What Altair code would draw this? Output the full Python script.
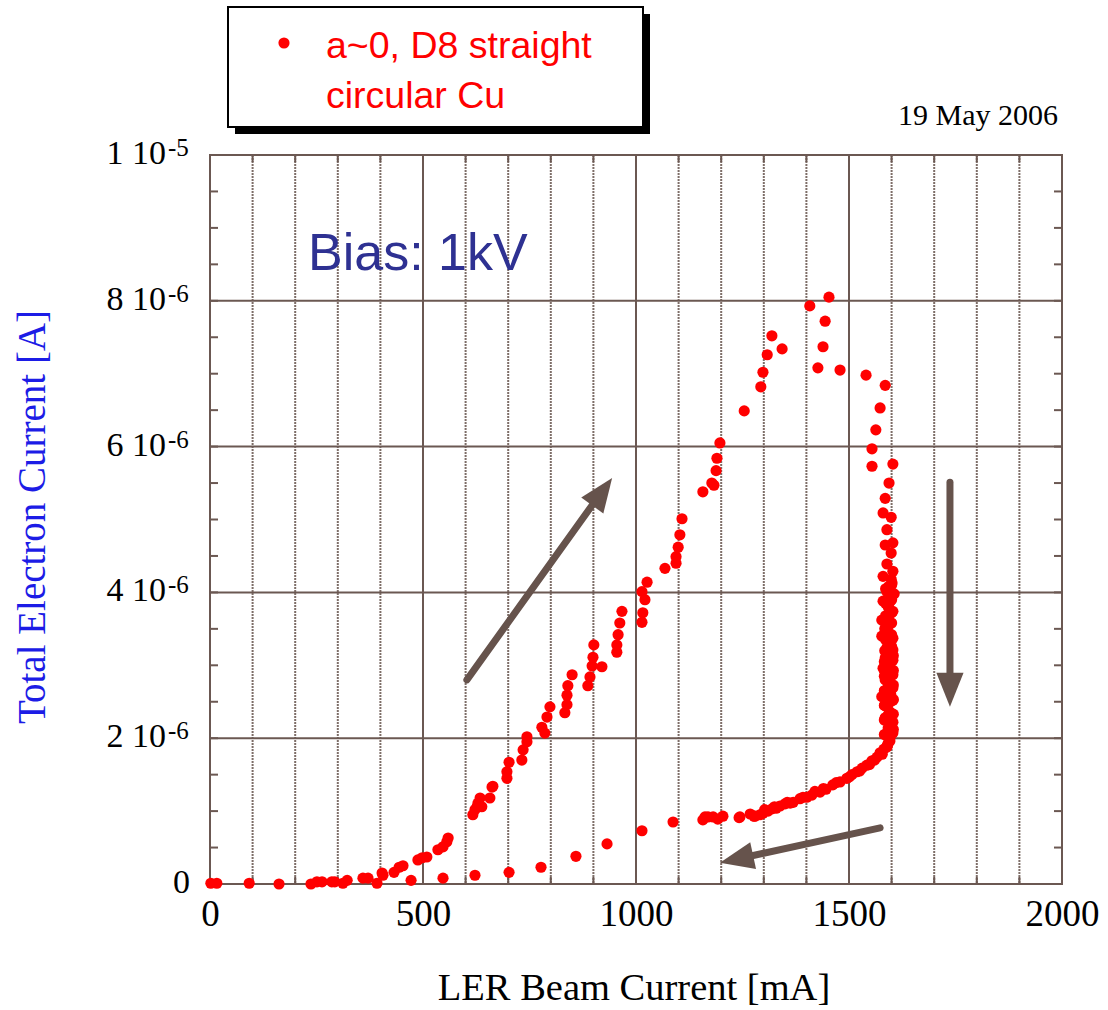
import altair as alt
import pandas as pd

# ---------------- data (LER beam current [mA], total electron current [1e-6 A]) ----------------
ramp_mA = [2, 16, 92, 162, 237, 251, 263, 286, 293, 312, 322, 359, 371, 392, 404, 406, 432, 444, 453,
           488, 498, 509, 535, 547, 556, 559, 617, 622, 627, 629, 634, 638, 657, 662, 664, 697, 697,
           702, 732, 735, 744, 744, 779, 786, 791, 798, 833, 838, 838, 840, 850, 887, 892, 897, 899,
           901, 920, 955, 955, 958, 962, 967, 1014, 1016, 1021, 1014, 1026, 1068, 1094, 1094, 1099,
           1103, 1108, 1157, 1178, 1183, 1188, 1190, 1197, 1254, 1293, 1298, 1308, 1319, 1343, 1408,
           1453, 1444, 1439, 1427, 1479, 1540, 1585]
ramp_uA = [0.01, 0.01, 0.01, 0.0, 0.0, 0.03, 0.03, 0.03, 0.03, 0.01, 0.05, 0.08, 0.08, 0.01, 0.15, 0.12,
           0.16, 0.23, 0.25, 0.33, 0.36, 0.37, 0.47, 0.51, 0.58, 0.63, 0.95, 1.02, 1.06, 1.11, 1.18,
           1.06, 1.18, 1.33, 1.34, 1.45, 1.54, 1.67, 1.70, 1.84, 1.95, 2.02, 2.15, 2.07, 2.29, 2.43,
           2.35, 2.46, 2.59, 2.72, 2.87, 2.72, 2.84, 2.99, 3.11, 3.28, 2.98, 3.18, 3.28, 3.42, 3.58,
           3.74, 3.59, 3.72, 3.90, 4.01, 4.14, 4.33, 4.40, 4.49, 4.62, 4.79, 5.01, 5.38, 5.50, 5.47,
           5.67, 5.84, 6.05, 6.49, 6.82, 7.02, 7.26, 7.52, 7.34, 7.93, 8.05, 7.72, 7.37, 7.08, 7.05,
           6.98, 6.84]

hold_mA = [1573, 1563, 1554, 1554, 1603, 1594, 1585, 1580, 1599, 1589, 1585, 1603, 1599, 1589, 1603,
           1580, 1599, 1601, 1589, 1606, 1580, 1596, 1603, 1577, 1596, 1589, 1577, 1603, 1589, 1603,
           1585, 1603, 1580, 1603, 1585, 1603, 1577, 1603, 1589, 1596, 1585, 1603, 1592, 1603, 1596,
           1592, 1592, 1592, 1592, 1592, 1592, 1592, 1592, 1592, 1592, 1592, 1584, 1584, 1584, 1584,
           1584, 1598, 1598, 1598, 1598, 1598,
           1583, 1590, 1597, 1604, 1583, 1590, 1597, 1604, 1583, 1590, 1597, 1604, 1583, 1590, 1597,
           1604, 1583, 1590, 1597, 1604, 1583, 1590, 1597, 1604, 1586, 1593, 1600, 1586, 1593, 1600,
           1586, 1593, 1600, 1586, 1593, 1600, 1586, 1593, 1600, 1586, 1593, 1600]
hold_uA = [6.53, 6.23, 5.97, 5.73, 5.76, 5.50, 5.29, 5.09, 5.03, 4.86, 4.65, 4.68, 4.54, 4.39, 4.29,
           4.22, 4.18, 4.13, 4.01, 3.98, 3.88, 3.87, 3.74, 3.62, 3.59, 3.48, 3.40, 3.37, 3.24, 3.21,
           3.10, 3.07, 2.96, 2.87, 2.80, 2.69, 2.57, 2.52, 2.43, 2.36, 2.28, 2.22, 2.14, 2.07, 2.00,
           1.93, 3.80, 3.55, 3.30, 3.15, 3.00, 2.90, 2.75, 2.62, 2.48, 2.32, 2.45, 2.65, 2.92, 3.20,
           3.50, 2.60, 2.30, 2.10, 2.95, 3.25,
           2.05, 2.08, 2.10, 2.12, 2.25, 2.27, 2.30, 2.33, 2.45, 2.47, 2.50, 2.53, 2.65, 2.67, 2.70,
           2.73, 2.85, 2.87, 2.90, 2.93, 3.05, 3.08, 3.10, 3.13, 3.20, 3.23, 3.26, 3.35, 3.38, 3.42,
           3.52, 3.55, 3.58, 3.68, 3.70, 3.72, 3.85, 3.88, 3.90, 4.05, 4.08, 4.10]

decay_mA = [1589, 1582, 1573, 1566, 1554, 1542, 1531, 1519, 1507, 1495, 1479, 1462, 1446, 1432, 1413,
            1401, 1385, 1369, 1362, 1350, 1338, 1329, 1319, 1310, 1298, 1291, 1279, 1277, 1244, 1242,
            1204, 1192, 1181, 1169, 1162, 1157, 1087, 1014, 932, 859, 777, 702, 622, 547, 472,
            1596, 1590, 1578, 1560, 1548, 1525, 1501, 1470, 1440, 1420, 1392, 1355, 1325, 1302, 1268]
decay_uA = [1.88, 1.85, 1.80, 1.74, 1.69, 1.63, 1.59, 1.54, 1.50, 1.45, 1.40, 1.36, 1.30, 1.26, 1.22,
            1.19, 1.17, 1.12, 1.11, 1.10, 1.07, 1.04, 1.03, 1.00, 0.97, 0.95, 0.93, 0.93, 0.92, 0.91,
            0.93, 0.89, 0.92, 0.92, 0.92, 0.88, 0.85, 0.73, 0.55, 0.38, 0.23, 0.16, 0.12, 0.08, 0.05,
            1.96, 1.90, 1.78, 1.70, 1.64, 1.55, 1.47, 1.39, 1.31, 1.27, 1.19, 1.12, 1.06, 1.02, 0.96]

# axes / grid
x_label_vals = [0, 500, 1000, 1500, 2000]
x_major_grid = [500, 1000, 1500]
x_minor_grid = [100, 200, 300, 400, 600, 700, 800, 900, 1100, 1200, 1300, 1400, 1600, 1700, 1800, 1900]
x_minor_ticks = list(range(100, 2000, 100))
y_grid = [2, 4, 6, 8]
y_minor_ticks = [0.5, 1, 1.5, 2, 2.5, 3, 3.5, 4, 4.5, 5, 5.5, 6, 6.5, 7, 7.5, 8, 8.5, 9, 9.5]
y_tick_vals = [0, 2, 4, 6, 8, 10]
y_tick_main = ["0", "2 10", "4 10", "6 10", "8 10", "1 10"]
y_tick_exp = ["", "-6", "-6", "-6", "-6", "-5"]

# annotation arrows (start, shaft end, tip, head angle)
arrow_x0 = [603, 1737, 1573]
arrow_y0 = [2.80, 5.51, 0.77]
arrow_xs = [916, 1737, 1243]
arrow_ys = [5.35, 2.70, 0.35]
arrow_xt = [944, 1737, 1197]
arrow_yt = [5.57, 2.43, 0.29]
arrow_ang = [35.7, 180, 257.7]

# ---------------- styling ----------------
W, H = 852, 729
BROWN = "#6B5852"
MINOR = "#7E6E68"
ARROW = "#66534C"
SERIF = "Liberation Serif"
SANS = "Liberation Sans"

xs = alt.Scale(domain=[0, 2000], nice=False, zero=False)
ys = alt.Scale(domain=[0, 10], nice=False, zero=False)
x_axis = alt.Axis(values=x_label_vals, title=None, ticks=False, domain=False, grid=False,
                  format="d", labelFont=SERIF, labelFontSize=37, labelColor="black", labelPadding=12,
                  labelFlush=False, labelOverlap=False)


def X(f):
    return alt.X(f, type="quantitative", scale=xs, axis=x_axis)


def Y(f):
    return alt.Y(f, type="quantitative", scale=ys, axis=None)


one = pd.DataFrame({"k": [0]})

pts = pd.DataFrame({
    "mA": ramp_mA + hold_mA + decay_mA,
    "uA": ramp_uA + hold_uA + decay_uA,
})

minor_grid = alt.Chart(pd.DataFrame({"x": x_minor_grid})).mark_rule(
    color=MINOR, strokeWidth=2, strokeDash=[2, 1]).encode(x=X("x"), y=alt.value(0), y2=alt.value(H))
major_grid = alt.Chart(pd.DataFrame({"x": x_major_grid})).mark_rule(
    color=BROWN, strokeWidth=2).encode(x=X("x"), y=alt.value(0), y2=alt.value(H))
h_grid = alt.Chart(pd.DataFrame({"y": y_grid})).mark_rule(
    color=BROWN, strokeWidth=2).encode(y=Y("y"), x=alt.value(0), x2=alt.value(W))

xt = pd.DataFrame({"x": x_minor_ticks})
ticks_bottom = alt.Chart(xt).mark_rule(color=BROWN, strokeWidth=2).encode(
    x=X("x"), y=alt.value(H - 7), y2=alt.value(H))
ticks_top = alt.Chart(xt).mark_rule(color=BROWN, strokeWidth=2).encode(
    x=X("x"), y=alt.value(0), y2=alt.value(7))
yt = pd.DataFrame({"y": y_minor_ticks})
ticks_left = alt.Chart(yt).mark_rule(color=BROWN, strokeWidth=2).encode(
    y=Y("y"), x=alt.value(0), x2=alt.value(8))
ticks_right = alt.Chart(yt).mark_rule(color=BROWN, strokeWidth=2).encode(
    y=Y("y"), x=alt.value(W - 8), x2=alt.value(W))

points = alt.Chart(pts).mark_circle(size=125, color="#FF0000", opacity=1).encode(
    x=X("mA"), y=Y("uA"))

arr = pd.DataFrame({"x0": arrow_x0, "y0": arrow_y0, "xs": arrow_xs, "ys": arrow_ys,
                    "xt": arrow_xt, "yt": arrow_yt, "ang": arrow_ang})
shafts = alt.Chart(arr).mark_rule(color=ARROW, strokeWidth=7, strokeCap="round").encode(
    x=X("x0"), y=Y("y0"), x2="xs:Q", y2="ys:Q")
heads = alt.Chart(arr).mark_point(shape="M0,0L0.8,2L-0.8,2Z", filled=True, size=1156,
                                  color=ARROW, opacity=1, strokeWidth=0).encode(
    x=X("xt"), y=Y("yt"), angle=alt.Angle("ang:Q", scale=None))

ylab = pd.DataFrame({"v": y_tick_vals, "main": y_tick_main, "exp": y_tick_exp})
ylab_main = alt.Chart(ylab).transform_filter("datum.v > 0").mark_text(
    font=SERIF, fontSize=34, color="black", align="right", baseline="alphabetic", dy=9).encode(
    y=Y("v"), x=alt.value(-44), text="main:N")
ylab_exp = alt.Chart(ylab).transform_filter("datum.v > 0").mark_text(
    font=SERIF, fontSize=25, color="black", align="left", baseline="alphabetic", dy=1).encode(
    y=Y("v"), x=alt.value(-42), text="exp:N")
ylab_zero = alt.Chart(ylab).transform_filter("datum.v == 0").mark_text(
    font=SERIF, fontSize=34, color="black", align="right", baseline="alphabetic", dy=9).encode(
    y=Y("v"), x=alt.value(-20), text="main:N")

y_title = alt.Chart(one).mark_text(text="Total Electron Current [A]", font=SERIF, fontSize=39,
                                   color="#1C1CE6", angle=270, align="center", baseline="middle").encode(
    x=alt.value(-177), y=alt.value(362))
x_title = alt.Chart(one).mark_text(text="LER Beam Current [mA]", font=SERIF, fontSize=38.5,
                                   color="black", align="center", baseline="alphabetic").encode(
    x=alt.value(424), y=alt.value(845))
date_txt = alt.Chart(one).mark_text(text="19 May 2006", font=SERIF, fontSize=30, color="black",
                                    align="right", baseline="alphabetic").encode(
    x=alt.value(848), y=alt.value(-30))
bias_txt = alt.Chart(one).mark_text(text="Bias: 1kV", font=SANS, fontSize=52, color="#2E3192",
                                    align="left", baseline="alphabetic").encode(
    x=alt.value(98), y=alt.value(115))

leg_shadow = alt.Chart(one).mark_rect(color="black").encode(
    x=alt.value(25), x2=alt.value(440), y=alt.value(-141), y2=alt.value(-21))
leg_box = alt.Chart(one).mark_rect(fill="white", stroke="black", strokeWidth=2).encode(
    x=alt.value(18), x2=alt.value(433), y=alt.value(-148), y2=alt.value(-28))
leg_dot = alt.Chart(one).mark_circle(size=125, color="#FF0000", opacity=1).encode(
    x=alt.value(74), y=alt.value(-112))
leg_t1 = alt.Chart(one).mark_text(text="a~0, D8 straight", font=SANS, fontSize=37.5, color="#FF0000",
                                  align="left", baseline="alphabetic").encode(
    x=alt.value(116), y=alt.value(-97))
leg_t2 = alt.Chart(one).mark_text(text="circular Cu", font=SANS, fontSize=37.5, color="#FF0000",
                                  align="left", baseline="alphabetic").encode(
    x=alt.value(116), y=alt.value(-47))

chart = alt.layer(
    minor_grid, major_grid, h_grid, ticks_bottom, ticks_top, ticks_left, ticks_right,
    points, shafts, heads,
    ylab_main, ylab_exp, ylab_zero, y_title, x_title, date_txt, bias_txt,
    leg_shadow, leg_box, leg_dot, leg_t1, leg_t2,
).properties(
    width=W, height=H,
    autosize=alt.AutoSizeParams(type="none"),
    padding={"left": 210, "top": 155, "right": 46, "bottom": 126},
    background="white",
).configure_view(stroke=BROWN, strokeWidth=2)

chart.save("out.html", embed_options={"renderer": "svg", "actions": False})
